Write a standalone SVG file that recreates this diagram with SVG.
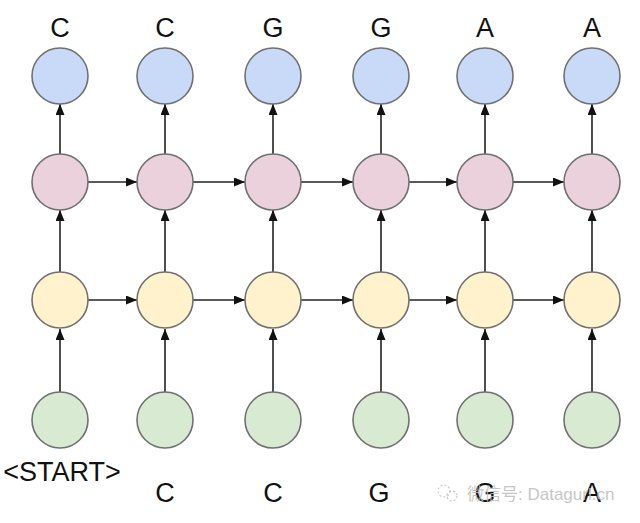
<svg xmlns="http://www.w3.org/2000/svg" width="640" height="523" viewBox="0 0 640 523">
<style>
.n{stroke:#707070;stroke-width:1.6}
.b{fill:#c9daf8}.p{fill:#ead1dc}.y{fill:#fff2cc}.g{fill:#d9ead3}
.e{stroke:#222;stroke-width:1.6;fill:none;marker-end:url(#ah)}
.t{font-family:"Liberation Sans",Arial,sans-serif;font-size:27px;fill:#111;text-anchor:middle}
.w{font-family:"Liberation Sans","Noto Sans CJK SC",sans-serif;font-size:17px;fill:#bdbdbd;opacity:0.85}
</style>
<defs>
<marker id="ah" markerWidth="11" markerHeight="9" refX="11" refY="4.5" orient="auto" markerUnits="userSpaceOnUse">
<path d="M0,0 L11,4.5 L0,9 Z" fill="#111"/>
</marker>
</defs>
<rect width="640" height="523" fill="#ffffff"/>
<g id="connectors">
<path class="e" d="M60,392 V329"/>
<path class="e" d="M165,392 V329"/>
<path class="e" d="M273,392 V329"/>
<path class="e" d="M381,392 V329"/>
<path class="e" d="M485,392 V329"/>
<path class="e" d="M592,392 V329"/>
<path class="e" d="M60,272 V210"/>
<path class="e" d="M165,272 V210"/>
<path class="e" d="M273,272 V210"/>
<path class="e" d="M381,272 V210"/>
<path class="e" d="M485,272 V210"/>
<path class="e" d="M592,272 V210"/>
<path class="e" d="M60,154 V104"/>
<path class="e" d="M165,154 V104"/>
<path class="e" d="M273,154 V104"/>
<path class="e" d="M381,154 V104"/>
<path class="e" d="M485,154 V104"/>
<path class="e" d="M592,154 V104"/>
<path class="e" d="M88,182 H137"/>
<path class="e" d="M193,182 H245"/>
<path class="e" d="M301,182 H353"/>
<path class="e" d="M409,182 H457"/>
<path class="e" d="M513,182 H564"/>
<path class="e" d="M88,300 H137"/>
<path class="e" d="M193,300 H245"/>
<path class="e" d="M301,300 H353"/>
<path class="e" d="M409,300 H457"/>
<path class="e" d="M513,300 H564"/>
</g>
<g id="out1"><circle class="n b" cx="60" cy="76" r="28"/><text class="t" x="60" y="37">C</text></g>
<g id="out2"><circle class="n b" cx="165" cy="76" r="28"/><text class="t" x="165" y="37">C</text></g>
<g id="out3"><circle class="n b" cx="273" cy="76" r="28"/><text class="t" x="273" y="37">G</text></g>
<g id="out4"><circle class="n b" cx="381" cy="76" r="28"/><text class="t" x="381" y="37">G</text></g>
<g id="out5"><circle class="n b" cx="485" cy="76" r="28"/><text class="t" x="485" y="37">A</text></g>
<g id="out6"><circle class="n b" cx="592" cy="76" r="28"/><text class="t" x="592" y="37">A</text></g>
<g id="h2_1"><circle class="n p" cx="60" cy="182" r="28"/></g>
<g id="h2_2"><circle class="n p" cx="165" cy="182" r="28"/></g>
<g id="h2_3"><circle class="n p" cx="273" cy="182" r="28"/></g>
<g id="h2_4"><circle class="n p" cx="381" cy="182" r="28"/></g>
<g id="h2_5"><circle class="n p" cx="485" cy="182" r="28"/></g>
<g id="h2_6"><circle class="n p" cx="592" cy="182" r="28"/></g>
<g id="h1_1"><circle class="n y" cx="60" cy="300" r="28"/></g>
<g id="h1_2"><circle class="n y" cx="165" cy="300" r="28"/></g>
<g id="h1_3"><circle class="n y" cx="273" cy="300" r="28"/></g>
<g id="h1_4"><circle class="n y" cx="381" cy="300" r="28"/></g>
<g id="h1_5"><circle class="n y" cx="485" cy="300" r="28"/></g>
<g id="h1_6"><circle class="n y" cx="592" cy="300" r="28"/></g>
<g id="in1"><circle class="n g" cx="60" cy="420" r="28"/><text class="t" x="62" y="481">&lt;START&gt;</text></g>
<g id="in2"><circle class="n g" cx="165" cy="420" r="28"/><text class="t" x="165" y="502">C</text></g>
<g id="in3"><circle class="n g" cx="273" cy="420" r="28"/><text class="t" x="273" y="502">C</text></g>
<g id="in4"><circle class="n g" cx="381" cy="420" r="28"/><text class="t" x="379" y="502">G</text></g>
<g id="in5"><circle class="n g" cx="485" cy="420" r="28"/><text class="t" x="485" y="502">G</text></g>
<g id="in6"><circle class="n g" cx="592" cy="420" r="28"/><text class="t" x="592" y="502">A</text></g>
<g id="watermark">
<circle cx="444" cy="491" r="6" fill="none" stroke="#c8c8c8" stroke-width="1.2" stroke-dasharray="2 2"/>
<circle cx="452" cy="496" r="5" fill="none" stroke="#c8c8c8" stroke-width="1.2" stroke-dasharray="2 2"/>
<text class="w" x="467" y="500">微信号: Datagurl.cn</text>
</g>
</svg>
